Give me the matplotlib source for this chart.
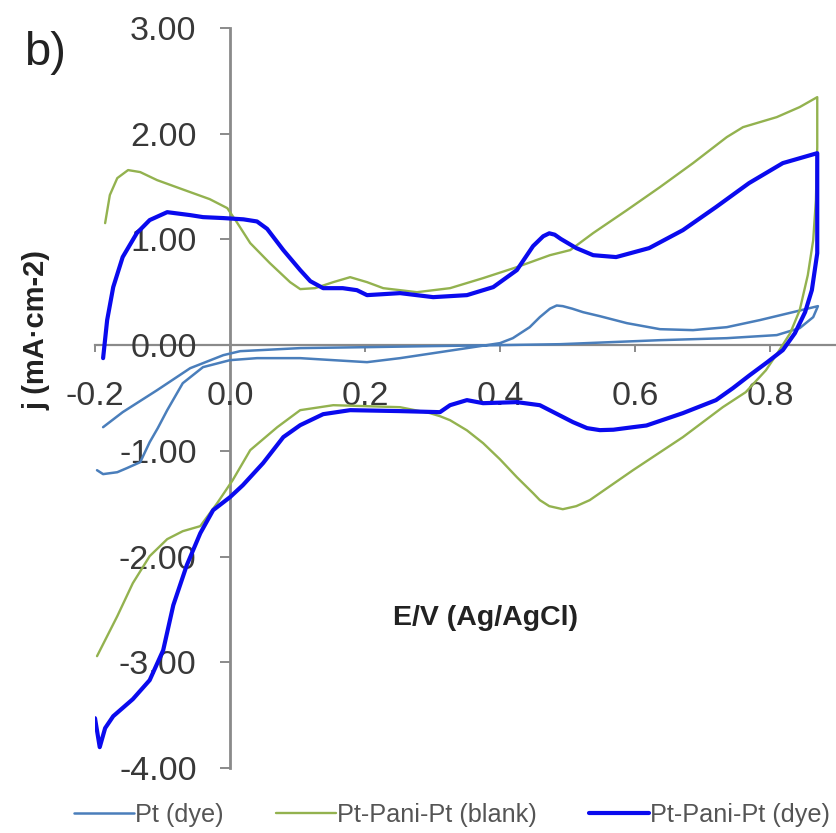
import matplotlib
matplotlib.use("Agg")
import matplotlib.pyplot as plt
from matplotlib.ticker import FormatStrFormatter

plt.rcParams["font.family"] = ["Liberation Sans", "DejaVu Sans"]
plt.rcParams["axes.unicode_minus"] = False

# Cyclic voltammograms: potential E (V vs Ag/AgCl) and current density j (mA cm-2)
pt_dye_E = [-0.197, -0.188, -0.167, -0.153, -0.133, -0.119, -0.107, -0.093, -0.070, -0.040,
            0.000, 0.040, 0.104, 0.153, 0.203, 0.252, 0.301, 0.351, 0.400, 0.419, 0.444,
            0.459, 0.474, 0.484, 0.493, 0.507, 0.523, 0.548, 0.588, 0.637, 0.686, 0.736,
            0.785, 0.834, 0.871, 0.864, 0.844, 0.810, 0.736, 0.637, 0.489, 0.400, 0.301,
            0.203, 0.104, 0.015, -0.010, -0.059, -0.108, -0.159, -0.188]
pt_dye_j = [-1.183, -1.220, -1.202, -1.164, -1.107, -0.918, -0.785, -0.615, -0.360, -0.208,
            -0.142, -0.123, -0.123, -0.142, -0.161, -0.123, -0.076, -0.028, 0.019, 0.066, 0.170,
            0.265, 0.345, 0.375, 0.369, 0.345, 0.312, 0.274, 0.208, 0.151, 0.142, 0.170,
            0.237, 0.312, 0.369, 0.265, 0.161, 0.095, 0.066, 0.047, 0.009, 0.000, -0.009,
            -0.019, -0.028, -0.057, -0.095, -0.218, -0.426, -0.634, -0.776]

blank_E = [-0.185, -0.178, -0.167, -0.151, -0.133, -0.108, -0.067, -0.030, -0.004, 0.010,
           0.030, 0.059, 0.089, 0.104, 0.126, 0.153, 0.178, 0.203, 0.227, 0.277, 0.326,
           0.375, 0.425, 0.474, 0.504, 0.538, 0.588, 0.637, 0.686, 0.736, 0.760, 0.810,
           0.844, 0.870, 0.870, 0.868, 0.864, 0.856, 0.844, 0.830, 0.812, 0.794, 0.764,
           0.730, 0.671, 0.597, 0.533, 0.513, 0.493, 0.473, 0.459, 0.449, 0.425, 0.400,
           0.375, 0.351, 0.326, 0.311, 0.296, 0.252, 0.153, 0.104, 0.070, 0.030, 0.004,
           -0.019, -0.044, -0.070, -0.093, -0.119, -0.144, -0.167, -0.197]
blank_j = [1.154, 1.420, 1.580, 1.656, 1.637, 1.561, 1.466, 1.381, 1.296, 1.164,
           0.965, 0.776, 0.596, 0.530, 0.539, 0.596, 0.643, 0.596, 0.539, 0.501, 0.539,
           0.634, 0.738, 0.851, 0.899, 1.060, 1.277, 1.495, 1.722, 1.968, 2.062, 2.157,
           2.252, 2.346, 1.873, 1.372, 0.993, 0.662, 0.331, 0.114, -0.066, -0.237, -0.445,
           -0.587, -0.870, -1.183, -1.466, -1.523, -1.552, -1.523, -1.466, -1.400, -1.249, -1.080,
           -0.927, -0.806, -0.710, -0.672, -0.643, -0.587, -0.568, -0.615, -0.776, -0.993, -1.277,
           -1.495, -1.712, -1.760, -1.835, -1.996, -2.252, -2.564, -2.942]

pani_dye_E = [-0.188, -0.182, -0.173, -0.159, -0.138, -0.119, -0.093, -0.059, -0.040, -0.010,
              0.020, 0.040, 0.055, 0.079, 0.104, 0.119, 0.138, 0.167, 0.188, 0.203, 0.252,
              0.301, 0.351, 0.390, 0.425, 0.449, 0.464, 0.473, 0.481, 0.490, 0.513, 0.538,
              0.572, 0.621, 0.671, 0.720, 0.769, 0.819, 0.870, 0.870, 0.862, 0.852, 0.837,
              0.819, 0.796, 0.770, 0.745, 0.720, 0.671, 0.617, 0.597, 0.568, 0.548, 0.529,
              0.508, 0.459, 0.425, 0.375, 0.351, 0.326, 0.311, 0.252, 0.178, 0.138, 0.104,
              0.079, 0.049, 0.019, 0.000, -0.025, -0.044, -0.064, -0.084, -0.099, -0.119,
              -0.144, -0.173, -0.185, -0.193, -0.200]
pani_dye_j = [-0.123, 0.237, 0.549, 0.833, 1.060, 1.183, 1.258, 1.230, 1.211, 1.202,
              1.190, 1.170, 1.100, 0.899, 0.710, 0.605, 0.539, 0.539, 0.520, 0.473, 0.492,
              0.454, 0.473, 0.549, 0.710, 0.937, 1.030, 1.058, 1.045, 1.005, 0.918, 0.851,
              0.833, 0.918, 1.088, 1.306, 1.533, 1.722, 1.816, 0.870, 0.520, 0.312, 0.114,
              -0.047, -0.161, -0.284, -0.407, -0.520, -0.643, -0.760, -0.776, -0.800, -0.804, -0.785,
              -0.728, -0.568, -0.539, -0.549, -0.520, -0.568, -0.634, -0.624, -0.615, -0.653, -0.757,
              -0.870, -1.116, -1.325, -1.438, -1.561, -1.779, -2.081, -2.460, -2.886, -3.169,
              -3.349, -3.510, -3.623, -3.803, -3.529]

labels = ["Pt (dye)", "Pt-Pani-Pt (blank)", "Pt-Pani-Pt (dye)"]
colors = ["#4A7EBB", "#93B24F", "#0A0AEE"]
widths = [1.8, 1.7, 3.0]

x_ticks = [-0.2, 0.0, 0.2, 0.4, 0.6, 0.8]
y_ticks = [-4.0, -3.0, -2.0, -1.0, 0.0, 1.0, 2.0, 3.0]

W, H = 836, 833
fig = plt.figure(figsize=(W / 100, H / 100), dpi=100)
ax = fig.add_axes([95 / W, 65 / H, 742.5 / W, 740 / H])

series = [(pt_dye_E, pt_dye_j), (blank_E, blank_j), (pani_dye_E, pani_dye_j)]
for (E, j), lab, c, lw in zip(series, labels, colors, widths):
    ax.plot(E, j, color=c, lw=lw, label=lab, solid_joinstyle="round", solid_capstyle="round")

ax.set_xlim(-0.2, 0.9)
ax.set_ylim(-4.0, 3.0)
ax.set_xticks(x_ticks)
ax.set_yticks(y_ticks)
ax.xaxis.set_major_formatter(FormatStrFormatter("%.1f"))
ax.yaxis.set_major_formatter(FormatStrFormatter("%.2f"))

axis_grey = "#8A8A8A"
for s in ("top", "right"):
    ax.spines[s].set_visible(False)
ax.spines["left"].set_position(("data", 0.0))
ax.spines["bottom"].set_position(("data", 0.0))
ax.spines["left"].set_color(axis_grey)
ax.spines["bottom"].set_color(axis_grey)
ax.spines["left"].set_linewidth(2.0)
ax.spines["bottom"].set_linewidth(1.6)
ax.spines["left"].set_zorder(0.5)
ax.spines["bottom"].set_zorder(0.5)

ax.tick_params(axis="y", direction="out", length=7, width=1.4, color=axis_grey,
               pad=17, labelsize=24.5, labelcolor="#383838")
ax.tick_params(axis="x", direction="out", length=5, width=1.4, color=axis_grey,
               pad=21, labelsize=24.5, labelcolor="#383838")
ax.patch.set_alpha(0)

ax.set_xlabel("E/V (Ag/AgCl)", fontsize=20.5, fontweight="bold", color="#222222", va="center")
ax.xaxis.set_label_coords((485 - 95) / 742.5, (768 - 618) / 740)
ax.set_ylabel("j (mA·cm-2)", fontsize=21, fontweight="bold", color="#222222", va="center")
ax.yaxis.set_label_coords((37 - 95) / 742.5, (768 - 330) / 740)

fig.text(24 / W, (H - 65) / H, "b)", fontsize=34, color="#222222", va="baseline", ha="left")

fig.legend(loc="center", bbox_to_anchor=(452 / W, 18 / H), ncol=3, frameon=False,
           fontsize=18.2, labelcolor="#555555", handlelength=2.37, handletextpad=0.05,
           columnspacing=2.05, borderpad=0)

fig.savefig("out.png", dpi=100)
